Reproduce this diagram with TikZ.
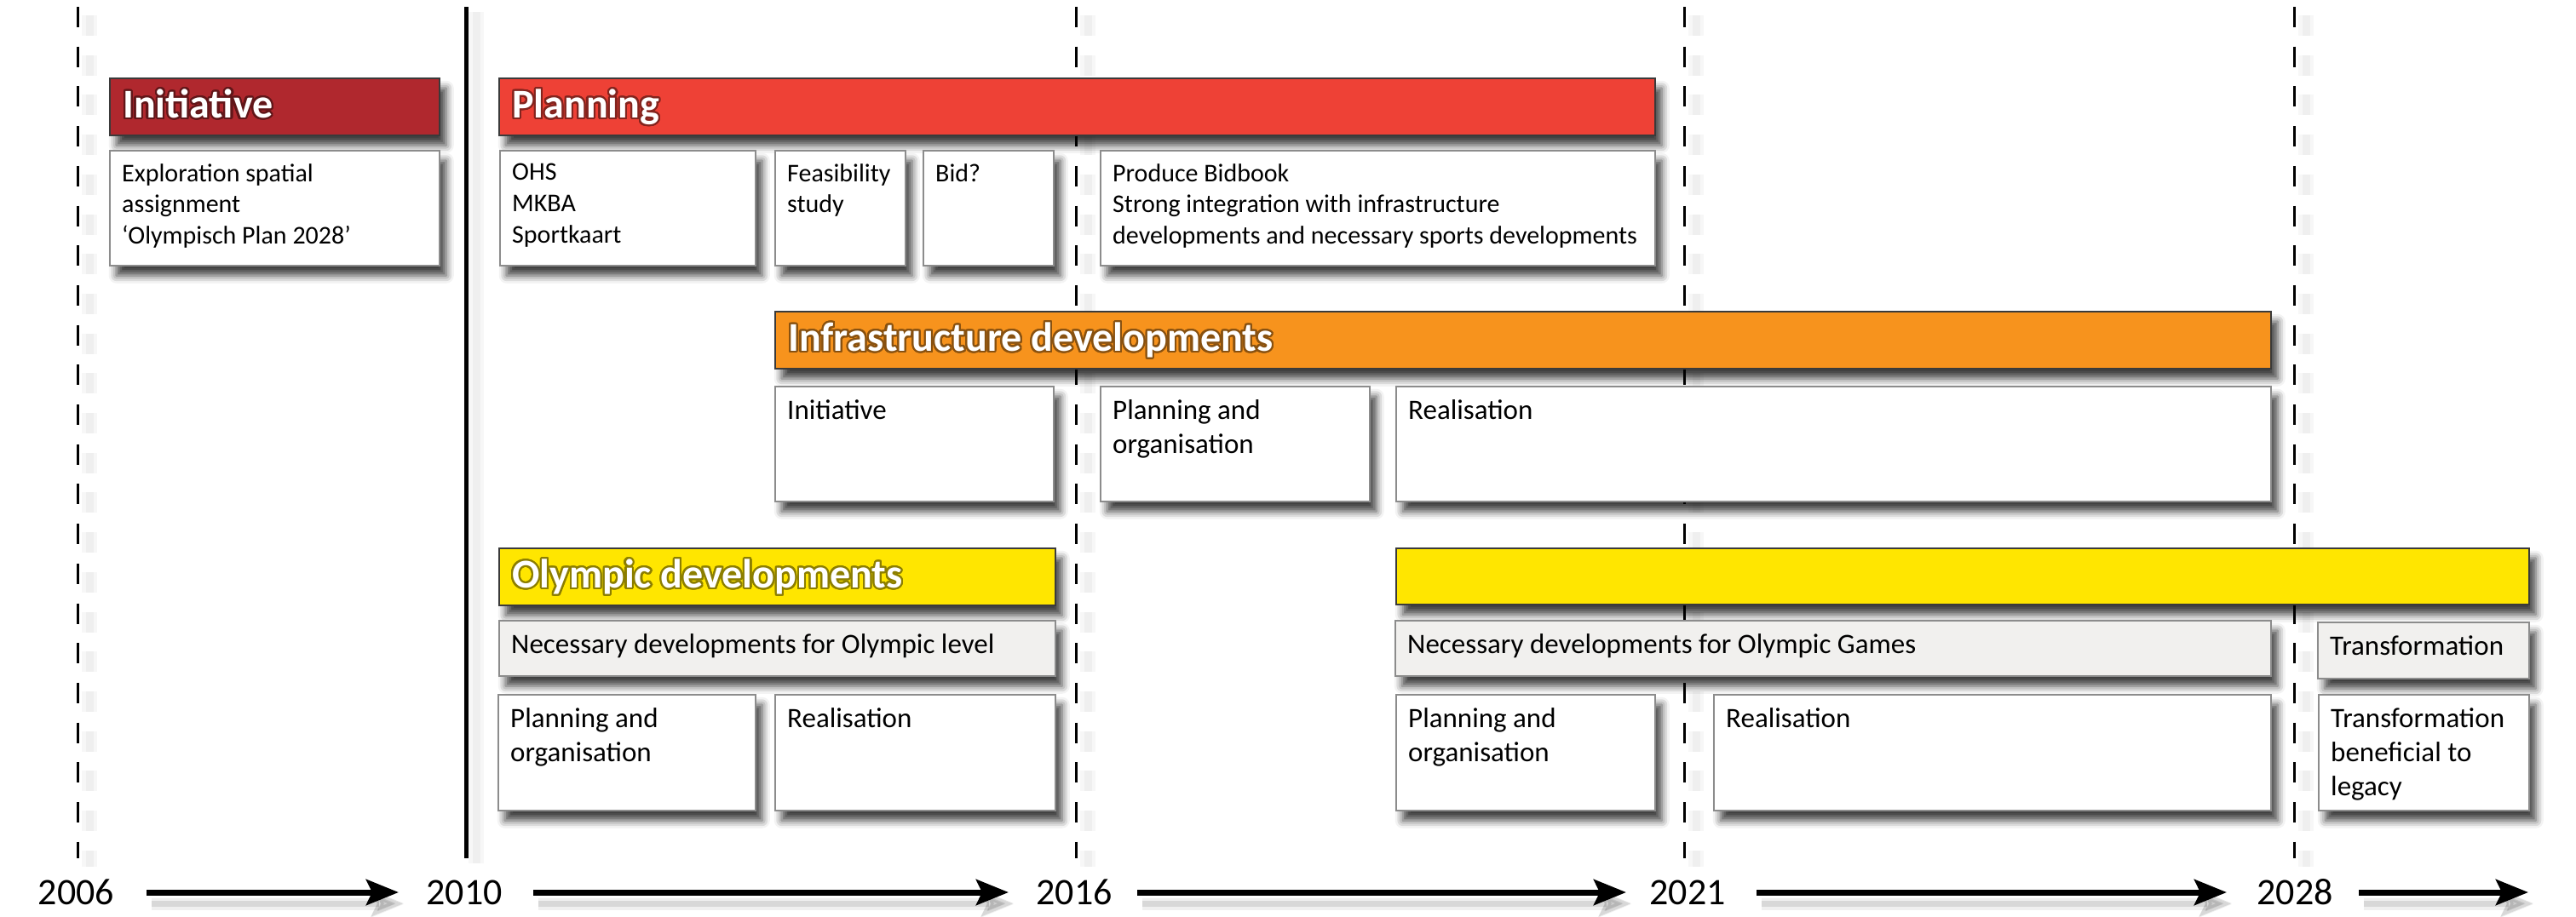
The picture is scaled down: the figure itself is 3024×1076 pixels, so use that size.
\documentclass[tikz,border=0pt]{standalone}
\usepackage{fontspec}
\setmainfont{Carlito}
\usepackage{contour}
\usetikzlibrary{arrows.meta,shadows.blur}
\definecolor{cInit}{HTML}{B0282E}
\definecolor{cPlan}{HTML}{EE4136}
\definecolor{cInfra}{HTML}{F7931D}
\definecolor{cOly}{HTML}{FFE600}
\definecolor{cGray}{HTML}{F1F0EE}
\definecolor{cBorder}{HTML}{8C8C8C}
\definecolor{cHdrBorder}{HTML}{3A3A3A}
\contourlength{2.2pt}
\contournumber{24}
\tikzset{
  shad/.style={blur shadow={shadow xshift=8pt, shadow yshift=-12pt, shadow blur radius=9pt, shadow opacity=75}},
  hdr/.style={shad, draw=cHdrBorder, line width=1.5pt, anchor=north west, inner sep=0pt},
  wbox/.style={shad, draw=cBorder, fill=white, line width=1.5pt, anchor=north west, inner sep=0pt},
  gbox/.style={wbox, fill=cGray},
  hdrtext/.style={anchor=base west, inner sep=0pt, text=white, font=\fontsize{48}{52}\selectfont\bfseries},
  smalltext/.style={anchor=north west, inner sep=0pt, align=left, font=\fontsize{30}{36.7}\selectfont},
  bodytext/.style={anchor=north west, inner sep=0pt, align=left, font=\fontsize{33}{40}\selectfont},
  yeartext/.style={anchor=base, inner sep=0pt, font=\fontsize{44}{48}\selectfont},
  dashline/.style={line width=3pt, dash pattern=on 24pt off 22.7pt},
  solidline/.style={line width=5pt},
  lshad/.style={draw=black, opacity=0.03},
  arr/.style={line width=7pt, -{Stealth[length=38pt, width=30pt, inset=7pt]}},
}
\newcommand{\mkbox}[8]{%
  \node[#2, minimum width={#6-#4}, minimum height={#7-#5}] (#1) at (#4,#5) {};
  \node[#3] (#1t) at ([shift={(15,16)}]#1.north west) {#8};
}
\newcommand{\mkhdr}[7]{%
  \node[hdr, fill=#2, minimum width={#5-#3}, minimum height={#6-#4}] (#1) at (#3,#4) {};
  \node[hdrtext] (#1t) at ([shift={(16,47.5)}]#1.north west) {\contour{#2!55!black}{#7}};
}
\begin{document}
\begin{tikzpicture}[x=1pt,y=-1pt]
\useasboundingbox (0,0) rectangle (3024,1076);
% timeline coordinates
\foreach \n/\x in {d2006/91,d2010/547,d2016/1263,d2021/1977,d2028/2693}{
  \coordinate (\n top) at (\x,8);
  \coordinate (\n bot) at (\x,1008);
}
% soft shadows of the vertical lines
\foreach \n in {d2006,d2016,d2021,d2028}{
  \draw[lshad, line width=18pt, dash pattern=on 24pt off 22.7pt, transform canvas={shift={(14pt,-10pt)}}] (\n top) -- (\n bot);
  \draw[lshad, line width=9pt, dash pattern=on 24pt off 22.7pt, transform canvas={shift={(14pt,-10pt)}}] (\n top) -- (\n bot);
}
\draw[lshad, line width=18pt, transform canvas={shift={(12pt,-6pt)}}] (d2010top) -- (d2010bot);
\draw[lshad, line width=9pt, transform canvas={shift={(12pt,-6pt)}}] (d2010top) -- (d2010bot);
% vertical lines
\foreach \n in {d2006,d2016,d2021,d2028}{
  \draw[dashline] (\n top) -- (\n bot);
}
\draw[solidline] (d2010top) -- (d2010bot);

% years
\node[yeartext] (y2006) at (89.5,1062) {2006};
\node[yeartext] (y2010) at (545,1062) {2010};
\node[yeartext] (y2016) at (1261,1062) {2016};
\node[yeartext] (y2021) at (1981,1062) {2021};
\node[yeartext] (y2028) at (2694,1062) {2028};
\coordinate (a1s) at (172,1048);  \coordinate (a1e) at (468,1048);
\coordinate (a2s) at (626,1048);  \coordinate (a2e) at (1184,1048);
\coordinate (a3s) at (1335,1048); \coordinate (a3e) at (1909,1048);
\coordinate (a4s) at (2062,1048); \coordinate (a4e) at (2614,1048);
\coordinate (a5s) at (2769,1048); \coordinate (a5e) at (2968,1048);
\foreach \i in {1,...,5}{
  \draw[arr, draw=black, opacity=0.06, line width=14pt, transform canvas={shift={(6pt,-14pt)}}] (a\i s) -- (a\i e);
  \draw[arr, draw=black, opacity=0.10, transform canvas={shift={(6pt,-13pt)}}] (a\i s) -- (a\i e);
  \draw[arr] (a\i s) -- (a\i e);
}

% headers
\mkhdr{hInit}{cInit}{128}{91}{515}{158}{Initiative}
\mkhdr{hPlan}{cPlan}{585}{91}{1942}{158}{Planning}
\mkhdr{hInfra}{cInfra}{909}{365}{2665}{432}{Infrastructure developments}
\mkhdr{hOly}{cOly}{585}{643}{1238}{710}{Olympic developments}
\node[hdr, fill=cOly, minimum width=1330, minimum height=66] (hOly2) at (1638,643) {};

% row 1
\mkbox{bExpl}{wbox}{smalltext}{128}{176}{515}{311}{Exploration spatial\\assignment\\‘Olympisch Plan 2028’}
\mkbox{bOHS}{wbox}{smalltext}{586}{176}{886}{311}{OHS\\MKBA\\Sportkaart}
\mkbox{bFeas}{wbox}{smalltext}{909}{176}{1062}{311}{Feasibility\\study}
\mkbox{bBid}{wbox}{smalltext}{1083}{176}{1236}{311}{Bid?}
\mkbox{bBook}{wbox}{smalltext}{1291}{176}{1942}{311}{Produce Bidbook\\Strong integration with infrastructure\\developments and necessary sports developments}

% row 2
\mkbox{bInfInit}{wbox}{bodytext}{909}{453}{1236}{588}{Initiative}
\mkbox{bInfPlan}{wbox}{bodytext}{1291}{453}{1607}{588}{Planning and\\organisation}
\mkbox{bInfReal}{wbox}{bodytext}{1638}{453}{2665}{588}{Realisation}

% row 3
\mkbox{gLevel}{gbox}{bodytext}{585}{728}{1238}{793}{Necessary developments for Olympic level}
\mkbox{gGames}{gbox}{bodytext}{1637}{728}{2665}{793}{Necessary developments for Olympic Games}
\mkbox{gTrans}{gbox}{bodytext}{2720}{730}{2968}{796}{Transformation}

% row 4
\mkbox{bOPlanA}{wbox}{bodytext}{584}{815}{886}{951}{Planning and\\organisation}
\mkbox{bORealA}{wbox}{bodytext}{909}{815}{1238}{951}{Realisation}
\mkbox{bOPlanB}{wbox}{bodytext}{1638}{815}{1942}{951}{Planning and\\organisation}
\mkbox{bORealB}{wbox}{bodytext}{2011}{815}{2665}{951}{Realisation}
\mkbox{bTransB}{wbox}{bodytext}{2721}{815}{2968}{951}{Transformation\\beneficial to\\legacy}
\end{tikzpicture}
\end{document}
